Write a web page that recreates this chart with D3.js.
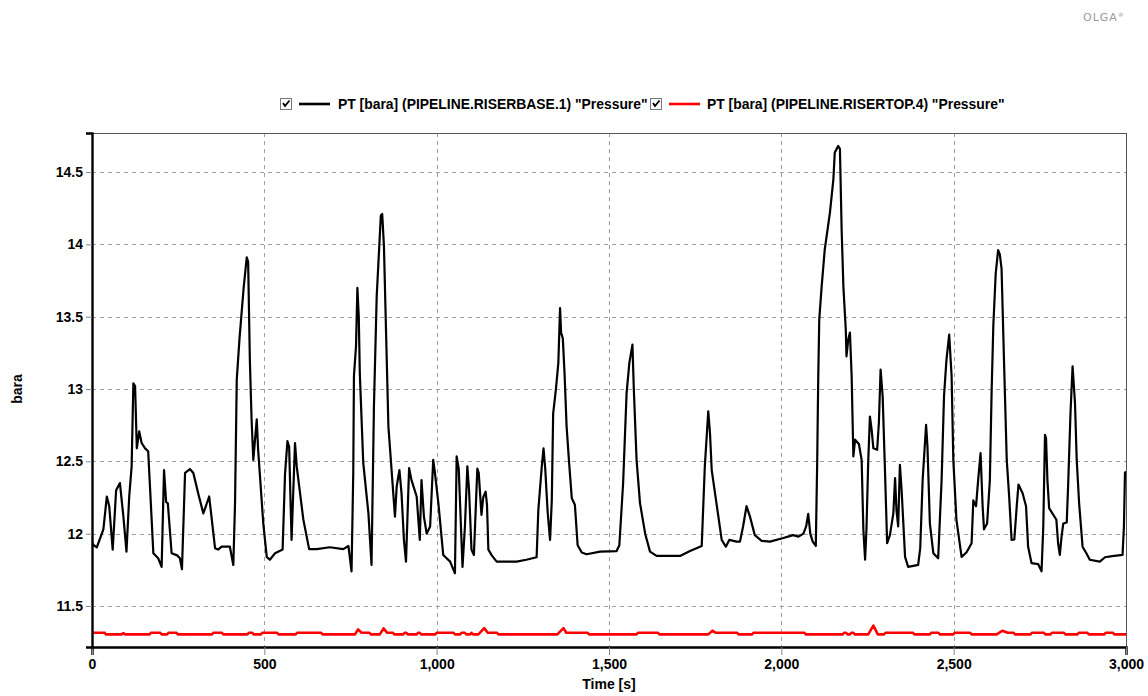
<!DOCTYPE html>
<html>
<head>
<meta charset="utf-8">
<script src="https://cdn.jsdelivr.net/npm/d3@7"></script>
<style>
  html, body { margin: 0; padding: 0; background: #ffffff; }
  svg { display: block; font-family: "Liberation Sans", Arial, sans-serif; }
</style>
</head>
<body>
<svg id="chart" width="1148" height="696"></svg>
<script>
// Riser base pressure (black) – time [s] and pressure [bara]
const riserBaseTime = [0,5,14,33,43,50,60,70,81,91,100,108,115,120,125,130,137,144,154,163,178,192,202,209,215,220,231,247,255,261,270,284,294,308,323,340,357,366,376,400,410,415,420,428,440,449,453,458,463,468,478,482,497,507,516,531,553,560,567,572,579,589,594,613,630,652,690,729,744,753,758,760,766,770,774,777,787,802,811,818,826,833,838,842,847,853,860,879,884,892,898,905,911,920,927,942,951,956,963,971,981,990,995,1005,1019,1039,1053,1058,1064,1075,1082,1089,1094,1101,1108,1118,1122,1130,1135,1142,1146,1150,1160,1174,1232,1260,1290,1295,1305,1310,1315,1322,1329,1334,1338,1346,1353,1358,1361,1366,1371,1377,1384,1392,1401,1409,1421,1435,1474,1522,1530,1541,1551,1559,1564,1568,1572,1580,1590,1605,1619,1638,1706,1735,1769,1778,1788,1793,1798,1827,1839,1849,1870,1880,1889,1899,1909,1923,1943,1967,2006,2034,2050,2064,2072,2078,2084,2091,2100,2104,2107,2110,2117,2126,2141,2151,2155,2165,2170,2175,2180,2187,2189,2194,2199,2204,2209,2214,2225,2233,2238,2243,2247,2252,2257,2262,2267,2278,2283,2288,2294,2300,2307,2315,2325,2330,2334,2339,2344,2349,2359,2368,2397,2403,2410,2420,2424,2431,2441,2455,2465,2472,2479,2487,2494,2499,2508,2523,2537,2552,2557,2565,2571,2578,2584,2588,2597,2605,2610,2615,2622,2629,2634,2639,2646,2654,2661,2668,2676,2683,2688,2700,2710,2716,2726,2745,2755,2760,2765,2768,2772,2777,2798,2803,2808,2813,2818,2828,2832,2839,2845,2852,2857,2864,2874,2885,2895,2924,2939,2960,2990,2994,2997,3000];
const riserBasePressure = [11.94,11.92,11.906,12.03,12.257,12.19,11.89,12.30,12.35,12.12,11.876,12.257,12.465,13.04,13.02,12.59,12.707,12.627,12.59,12.57,11.865,11.83,11.77,12.44,12.22,12.21,11.865,11.85,11.83,11.754,12.42,12.447,12.42,12.28,12.14,12.257,11.9,11.89,11.91,11.91,11.784,12.21,13.065,13.35,13.7,13.91,13.88,13.2,12.79,12.51,12.79,12.58,12.07,11.84,11.82,11.865,11.89,12.41,12.64,12.6,11.957,12.627,12.465,12.10,11.893,11.893,11.906,11.893,11.915,11.74,12.42,13.09,13.296,13.70,13.50,13.11,12.49,12.14,11.784,12.88,13.64,13.965,14.2,14.21,13.99,13.41,12.74,12.118,12.326,12.44,12.28,11.957,11.807,12.454,12.37,12.257,11.957,12.37,12.118,12.0,12.05,12.51,12.42,12.21,11.853,11.807,11.726,12.534,12.45,11.77,12.05,12.465,12.30,11.89,11.853,12.45,12.42,12.13,12.25,12.29,12.2,11.89,11.85,11.807,11.807,11.82,11.837,12.165,12.465,12.59,12.45,12.15,11.957,12.23,12.83,13.0,13.18,13.56,13.39,13.35,13.11,12.74,12.5,12.246,12.2,11.92,11.87,11.858,11.876,11.88,11.92,12.35,12.97,13.18,13.25,13.307,13.0,12.51,12.21,12.0,11.876,11.846,11.846,11.88,11.915,12.465,12.846,12.696,12.44,11.957,11.91,11.957,11.945,11.945,12.05,12.19,12.118,11.99,11.95,11.945,11.97,11.99,11.98,12.0,12.05,12.137,12.0,11.945,11.915,12.49,13.065,13.48,13.71,13.965,14.22,14.45,14.635,14.68,14.66,14.10,13.71,13.41,13.226,13.34,13.39,13.09,12.534,12.65,12.62,12.51,12.03,11.82,12.03,12.49,12.81,12.72,12.59,12.58,12.765,13.134,12.95,12.49,11.934,11.99,12.14,12.384,12.165,12.05,12.476,12.30,11.84,11.77,11.784,11.9,12.37,12.753,12.6,12.07,11.865,11.83,12.37,12.95,13.2,13.377,13.09,12.51,12.096,11.84,11.87,11.934,12.23,12.19,12.37,12.557,12.19,12.03,12.07,12.37,12.97,13.434,13.80,13.96,13.93,13.83,13.2,12.51,12.257,11.957,11.96,12.19,12.34,12.28,12.19,11.91,11.796,11.79,11.74,12.05,12.684,12.66,12.37,12.177,12.096,11.934,11.853,11.98,12.07,12.077,12.326,12.834,13.157,12.904,12.51,12.21,11.91,11.865,11.82,11.807,11.837,11.845,11.853,12.05,12.42,12.43];

// Riser top pressure (red) – time [s] and pressure [bara]
const riserTopTime = [0,37,40,86,91,96,167,171,198,202,218,222,245,249,348,352,377,381,451,455,465,469,490,494,537,541,591,595,665,669,763,772,782,805,809,835,846,856,873,877,903,907,912,916,942,946,951,955,996,1000,1049,1053,1068,1072,1082,1086,1097,1101,1105,1121,1138,1148,1175,1179,1350,1368,1376,1438,1442,1580,1584,1642,1646,1788,1800,1810,1872,1876,1915,1919,2067,2071,2178,2182,2188,2192,2199,2203,2209,2213,2252,2267,2280,2298,2302,2382,2386,2431,2435,2456,2460,2499,2503,2548,2552,2625,2641,2657,2674,2678,2723,2727,2762,2766,2781,2785,2820,2824,2859,2863,2888,2892,2937,2941,2962,2966,3000];
const riserTopPressure = [11.315,11.315,11.304,11.304,11.312,11.304,11.304,11.315,11.315,11.304,11.304,11.315,11.315,11.304,11.304,11.315,11.315,11.304,11.304,11.315,11.315,11.304,11.304,11.315,11.315,11.304,11.304,11.315,11.315,11.304,11.304,11.338,11.315,11.315,11.304,11.304,11.345,11.315,11.315,11.304,11.304,11.315,11.315,11.304,11.304,11.315,11.315,11.304,11.304,11.315,11.315,11.304,11.304,11.315,11.315,11.304,11.304,11.315,11.304,11.304,11.347,11.315,11.315,11.304,11.304,11.347,11.315,11.315,11.304,11.304,11.315,11.315,11.304,11.304,11.329,11.315,11.315,11.304,11.304,11.315,11.315,11.304,11.304,11.315,11.315,11.304,11.304,11.315,11.315,11.304,11.304,11.364,11.304,11.304,11.315,11.315,11.304,11.304,11.315,11.315,11.304,11.304,11.315,11.315,11.304,11.304,11.329,11.315,11.315,11.304,11.304,11.315,11.315,11.304,11.304,11.315,11.315,11.304,11.304,11.315,11.315,11.304,11.304,11.315,11.315,11.304,11.304];

const xTicks = [0, 500, 1000, 1500, 2000, 2500, 3000];
const yTicks = [11.5, 12, 12.5, 13, 13.5, 14, 14.5];
const seriesLabels = ['PT [bara] (PIPELINE.RISERBASE.1) "Pressure"', 'PT [bara] (PIPELINE.RISERTOP.4) "Pressure"'];
const seriesColors = ["#000000", "#ff0000"];

const svg = d3.select("#chart");
const plot = { left: 92, right: 1126, top: 133, bottom: 647 };

const x = d3.scaleLinear().domain([0, 3000]).range([plot.left, plot.right]);
const y = d3.scaleLinear().domain([11.2166, 14.77]).range([plot.bottom, plot.top]);

// Dashed grid
const grid = svg.append("g").attr("stroke", "#a0a0a0").attr("stroke-width", 1)
  .attr("stroke-dasharray", "4,4").attr("shape-rendering", "crispEdges");
grid.selectAll("line.gx").data(xTicks.slice(1, -1)).join("line")
  .attr("x1", d => Math.round(x(d)) + 0.5).attr("x2", d => Math.round(x(d)) + 0.5)
  .attr("y1", plot.top).attr("y2", plot.bottom);
grid.selectAll("line.gy").data(yTicks).join("line")
  .attr("x1", plot.left).attr("x2", plot.right)
  .attr("y1", d => Math.round(y(d)) + 0.5).attr("y2", d => Math.round(y(d)) + 0.5);

// Frame (top/right thin)
svg.append("rect")
  .attr("x", plot.left + 0.5).attr("y", plot.top + 0.5)
  .attr("width", plot.right - plot.left).attr("height", plot.bottom - plot.top)
  .attr("fill", "none").attr("stroke", "#555").attr("stroke-width", 1)
  .attr("shape-rendering", "crispEdges");

// Series lines
svg.append("clipPath").attr("id", "plotClip").append("rect")
  .attr("x", plot.left).attr("y", plot.top)
  .attr("width", plot.right - plot.left).attr("height", plot.bottom - plot.top);

const line = d3.line().x(d => x(d[0])).y(d => y(d[1]));
const lines = svg.append("g").attr("clip-path", "url(#plotClip)");

lines.append("path")
  .datum(d3.zip(riserTopTime, riserTopPressure))
  .attr("d", line).attr("fill", "none")
  .attr("stroke", seriesColors[1]).attr("stroke-width", 2.6).attr("stroke-linejoin", "round");

lines.append("path")
  .datum(d3.zip(riserBaseTime, riserBasePressure))
  .attr("d", line).attr("fill", "none")
  .attr("stroke", seriesColors[0]).attr("stroke-width", 2.2).attr("stroke-linejoin", "round");

// Axes
const xAxis = svg.append("g").attr("transform", `translate(0,${plot.bottom})`)
  .call(d3.axisBottom(x).tickValues(xTicks).tickFormat(d3.format(",")).tickSizeOuter(0).tickSize(8).tickPadding(4));
const yAxis = svg.append("g").attr("transform", `translate(${plot.left},0)`)
  .call(d3.axisLeft(y).tickValues(yTicks).tickFormat(d3.format("~g")).tickSizeOuter(0).tickSize(6).tickPadding(3));

[xAxis, yAxis].forEach(g => {
  g.select(".domain").attr("stroke", "#000").attr("stroke-width", 2.4);
  g.selectAll(".tick line").attr("stroke", "#888").attr("stroke-width", 1);
  g.selectAll(".tick text").attr("fill", "#000").attr("font-size", 14).attr("font-weight", "bold")
    .attr("font-family", '"Liberation Sans", Arial, sans-serif');
});

// Axis titles
svg.append("text").attr("x", x(1500)).attr("y", 689).attr("text-anchor", "middle")
  .attr("font-size", 14).attr("font-weight", "bold").text("Time [s]");
svg.append("text").attr("transform", `translate(22,${y(13)}) rotate(-90)`).attr("text-anchor", "middle")
  .attr("font-size", 14).attr("font-weight", "bold").text("bara");

// Legend
const legendItems = [
  { box: 280, lineX: 299, textX: 338 },
  { box: 650, lineX: 669, textX: 707 }
];
const legend = svg.append("g");
legendItems.forEach((it, i) => {
  const g = legend.append("g");
  g.append("rect").attr("x", it.box + 0.5).attr("y", 98.5).attr("width", 11).attr("height", 11)
    .attr("fill", "#fff").attr("stroke", "#777").attr("stroke-width", 1).attr("shape-rendering", "crispEdges");
  g.append("path").attr("d", `M${it.box + 3},${103} L${it.box + 5},${106} L${it.box + 9.5},${100.5}`)
    .attr("fill", "none").attr("stroke", "#000").attr("stroke-width", 1.8);
  g.append("line").attr("x1", it.lineX).attr("x2", it.lineX + 31).attr("y1", 104).attr("y2", 104)
    .attr("stroke", seriesColors[i]).attr("stroke-width", 2.6);
  g.append("text").attr("x", it.textX).attr("y", 109).attr("font-size", 13.9).attr("font-weight", "bold")
    .attr("fill", "#000").text(seriesLabels[i]);
});

// Product mark
const mark = svg.append("text").attr("x", 1083).attr("y", 21).attr("font-size", 11)
  .attr("fill", "#9a9a9a").attr("letter-spacing", 1).attr("font-family", '"DejaVu Sans", sans-serif');
mark.append("tspan").text("OLGA");
mark.append("tspan").attr("font-size", 6).attr("dy", -4).text("®");
</script>
</body>
</html>
